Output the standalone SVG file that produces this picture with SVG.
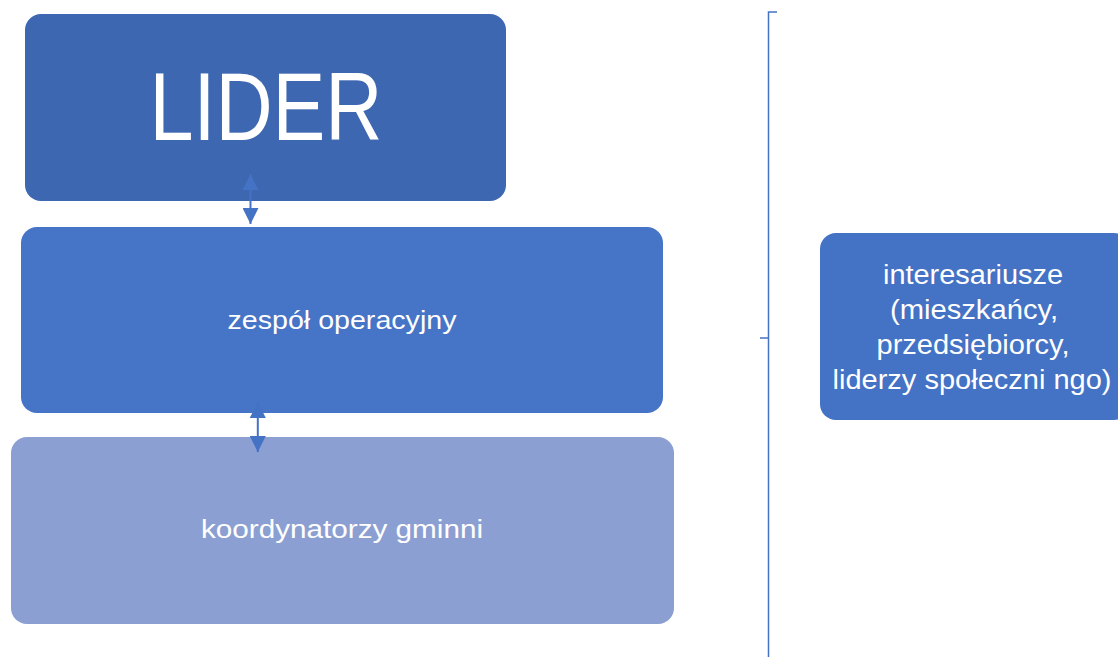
<svg xmlns="http://www.w3.org/2000/svg" width="1118" height="657" viewBox="0 0 1118 657">
<style>
.t{font-family:"Liberation Sans",Arial,sans-serif;fill:#fff;text-anchor:middle}
.c{stroke:#4472C4;stroke-width:2;fill:none}
</style>
<defs>
<marker id="ah" viewBox="0 0 16 16" refX="16" refY="8" markerWidth="16" markerHeight="16" markerUnits="userSpaceOnUse" orient="auto-start-reverse">
<path d="M0,0 L16,8 L0,16 Z" fill="#4472C4"/>
</marker>
</defs>
<rect width="1118" height="657" fill="#fff"/>
<g id="lider">
<rect x="25" y="14" width="481" height="187" rx="16" fill="#3E67B1"/>
<text class="t" x="266" y="140" font-size="96" textLength="233" lengthAdjust="spacingAndGlyphs">LIDER</text>
</g>
<g id="zespol">
<rect x="21" y="227" width="642" height="186" rx="16" fill="#4674C6"/>
<text class="t" x="342" y="329" font-size="26" textLength="229" lengthAdjust="spacingAndGlyphs">zespół operacyjny</text>
</g>
<g id="koordynatorzy">
<rect x="11" y="437" width="663" height="187" rx="16" fill="#8C9FD2"/>
<text class="t" x="342" y="538" font-size="26" textLength="282" lengthAdjust="spacingAndGlyphs">koordynatorzy gminni</text>
</g>
<g id="interesariusze">
<rect x="820" y="233" width="310" height="187" rx="16" fill="#4472C4"/>
<text class="t" x="973" y="284" font-size="27" textLength="180" lengthAdjust="spacingAndGlyphs">interesariusze</text>
<text class="t" x="974" y="319" font-size="27" textLength="168" lengthAdjust="spacingAndGlyphs">(mieszkańcy,</text>
<text class="t" x="973" y="354" font-size="27" textLength="193" lengthAdjust="spacingAndGlyphs">przedsiębiorcy,</text>
<text class="t" x="972" y="389" font-size="27" textLength="279" lengthAdjust="spacingAndGlyphs">liderzy społeczni ngo)</text>
</g>
<g id="connectors">
<line class="c" x1="250.5" y1="174" x2="250.5" y2="224" marker-start="url(#ah)" marker-end="url(#ah)"/>
<line class="c" x1="257.8" y1="402" x2="257.8" y2="452" marker-start="url(#ah)" marker-end="url(#ah)"/>
<path d="M777,12 L768.5,12 L768.5,657 M768.5,338 L760,338" stroke="#4472C4" stroke-width="1.5" fill="none"/>
</g>
</svg>
